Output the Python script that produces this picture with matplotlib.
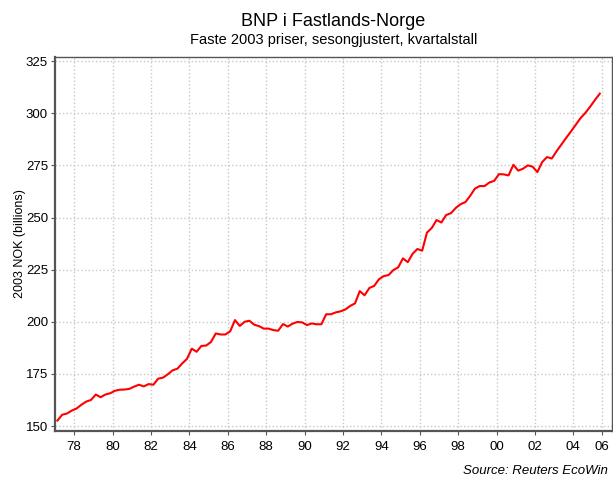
import numpy as np
import matplotlib
matplotlib.use('Agg')
import matplotlib.pyplot as plt

plt.rcParams['font.family'] = ['Liberation Sans', 'DejaVu Sans']

# quarterly BNP Fastlands-Norge, 1977Q1 - 2005Q2 (2003 NOK, billions)
start_year = 1977
bnp = [
    152.6, 155.4, 156.0, 157.4, 158.4, 160.2, 161.7, 162.5,
    165.1, 163.8, 165.1, 165.7, 166.9, 167.4, 167.5, 167.8,
    168.9, 169.8, 169.0, 170.1, 169.8, 172.7, 173.2, 174.8,
    176.7, 177.5, 180.0, 182.2, 187.1, 185.6, 188.4, 188.6,
    190.3, 194.4, 193.9, 193.9, 195.4, 200.8, 198.0, 200.0,
    200.5, 198.6, 197.9, 196.7, 196.7, 196.0, 195.7, 198.9,
    197.7, 199.1, 199.9, 199.7, 198.4, 199.2, 198.8, 198.8,
    203.6, 203.6, 204.5, 205.0, 205.9, 207.6, 208.8, 214.7,
    212.7, 216.2, 217.2, 220.4, 221.9, 222.4, 224.8, 226.1,
    230.4, 228.6, 232.6, 234.9, 234.1, 242.8, 245.0, 248.8,
    247.6, 251.2, 252.1, 254.6, 256.4, 257.4, 260.4, 263.9,
    265.1, 265.1, 266.8, 267.6, 270.8, 270.7, 270.2, 275.3,
    272.5, 273.4, 275.0, 274.4, 271.8, 276.6, 279.0, 278.3,
    281.8, 285.0, 288.2, 291.3, 294.5, 297.7, 300.2, 303.2,
    306.4, 309.4,
]
tick_years = [1978, 1980, 1982, 1984, 1986, 1988, 1990, 1992, 1994,
              1996, 1998, 2000, 2002, 2004, 2005.5]
tick_labels = ['78', '80', '82', '84', '86', '88', '90', '92', '94',
               '96', '98', '00', '02', '04', '06']

t = start_year + (np.arange(len(bnp)) + 0.5) / 4.0

fig = plt.figure(figsize=(6.13, 4.79), dpi=100)
ax = fig.add_axes([0.0897, 0.1002, 0.9083, 0.7808])

ax.plot(t, bnp, color='#ff0000', lw=1.5)

ax.set_xlim(1977.0, 2006.0)
ax.set_ylim(147.6, 327.0)
ax.set_yticks([150, 175, 200, 225, 250, 275, 300, 325])
ax.set_xticks(tick_years)
ax.set_xticklabels(tick_labels)

ax.grid(True, color='#c8c8c8', linestyle=':', linewidth=1.0)
ax.set_axisbelow(True)

for side in ['left', 'bottom']:
    ax.spines[side].set_color('#555555')
    ax.spines[side].set_linewidth(1.6)
for side in ['top', 'right']:
    ax.spines[side].set_color('#555555')
    ax.spines[side].set_linewidth(1.0)

ax.tick_params(axis='both', labelsize=9.5, length=3, color='#555555', direction='out')
ax.tick_params(axis='x', pad=4)
ax.tick_params(axis='y', pad=2)

ax.set_ylabel('2003 NOK (billions)', fontsize=9)
ax.yaxis.set_label_coords(-0.052, 0.5)

fig.text(0.544, 0.955, 'BNP i Fastlands-Norge', ha='center', va='center', fontsize=13)
fig.text(0.544, 0.917, 'Faste 2003 priser, sesongjustert, kvartalstall', ha='center',
         va='center', fontsize=10.5)
fig.text(0.992, 0.017, 'Source: Reuters EcoWin', ha='right', va='center',
         fontsize=9.5, style='italic')

fig.savefig('out.png', dpi=100)
